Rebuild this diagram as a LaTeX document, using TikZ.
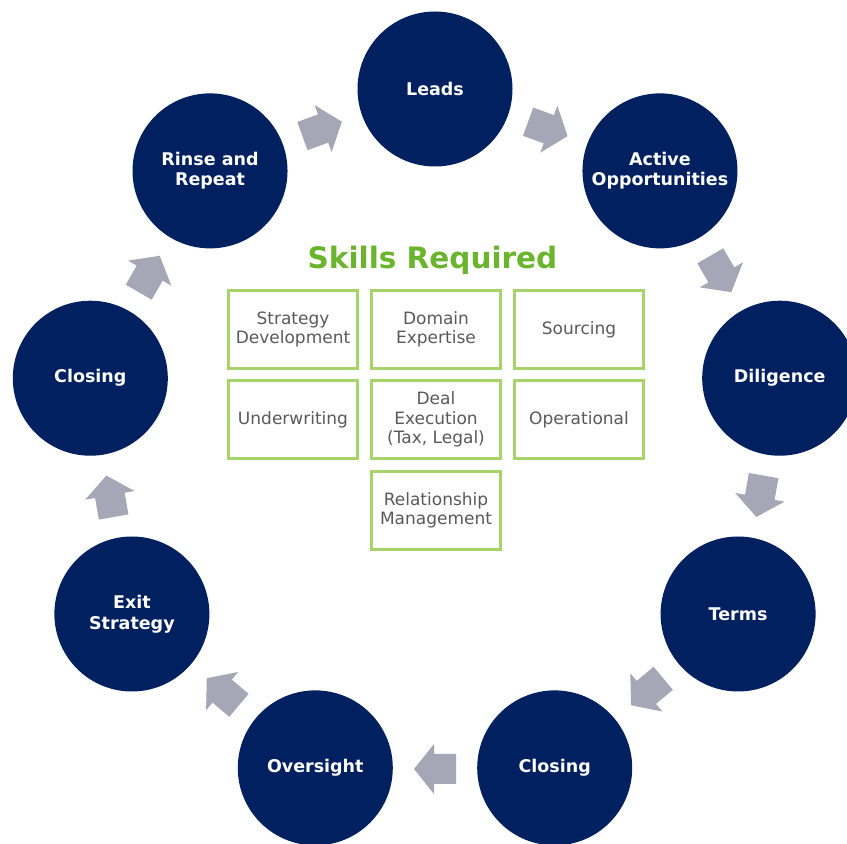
\documentclass[tikz,border=0pt]{standalone}
\usepackage{fontspec}
\setmainfont{DejaVu Sans}
\usetikzlibrary{calc}
\definecolor{navy}{HTML}{002060}
\definecolor{arrowgray}{HTML}{A6A6B6}
\definecolor{titlegreen}{HTML}{6AB42E}
\definecolor{boxgreen}{HTML}{A8D26A}
\definecolor{boxtext}{HTML}{595959}
\begin{document}
\begin{tikzpicture}[x=1pt,y=1pt,
 stage/.style={circle, fill=navy, minimum size=155pt, inner sep=0pt, text=white, align=center, font=\fontsize{17.5}{20.5}\selectfont\bfseries},
 skill/.style={draw=boxgreen, line width=3pt, minimum width=129pt, minimum height=78pt, inner sep=0pt, align=center, text=boxtext, font=\fontsize{17}{19.5}\selectfont},
 blockarrow/.pic={\fill[arrowgray] (-21,-15) -- (1,-15) -- (1,-25) -- (21,0) -- (1,25) -- (1,15) -- (-21,15) -- cycle;}
]
\useasboundingbox (0,0) rectangle (847,844);
\clip (0,0) rectangle (847,844);
\coordinate (C) at (435,405);
\node[stage] (s1) at ($(C)+(90:350)$) {Leads};
\node[stage] (s2) at ($(C)+(50:350)$) {Active\\Opportunities};
\node[stage] (s3) at ($(C)+(10:350)$) {Diligence};
\node[stage] (s4) at ($(C)+(-30:350)$) {Terms};
\node[stage] (s5) at ($(C)+(-70:350)$) {Closing};
\node[stage] (s6) at ($(C)+(-110:350)$) {Oversight};
\node[stage] (s7) at ($(C)+(-150:350)$) {Exit\\Strategy};
\node[stage] (s8) at ($(C)+(170:350)$) {Closing};
\node[stage] (s9) at ($(C)+(130:350)$) {Rinse and\\Repeat};
\foreach \a in {70,30,-10,-50,-90,-130,-170,150,110}{
  \pic[rotate=\a-90] at ($(C)+(\a:330)$) {blockarrow};
}
\node[text=titlegreen, font=\fontsize{29.5}{34}\selectfont\bfseries] (title) at (432.5,584) {Skills Required};
\node[skill] (k1) at (293,514.5) {Strategy\\Development};
\node[skill] (k2) at (436,514.5) {Domain\\Expertise};
\node[skill] (k3) at (579,514.5) {Sourcing};
\node[skill] (k4) at (293,424.5) {Underwriting};
\node[skill] (k5) at (436,424.5) {Deal\\Execution\\(Tax, Legal)};
\node[skill] (k6) at (579,424.5) {Operational};
\node[skill] (k7) at (436,333.5) {Relationship\\Management};
\end{tikzpicture}
\end{document}
